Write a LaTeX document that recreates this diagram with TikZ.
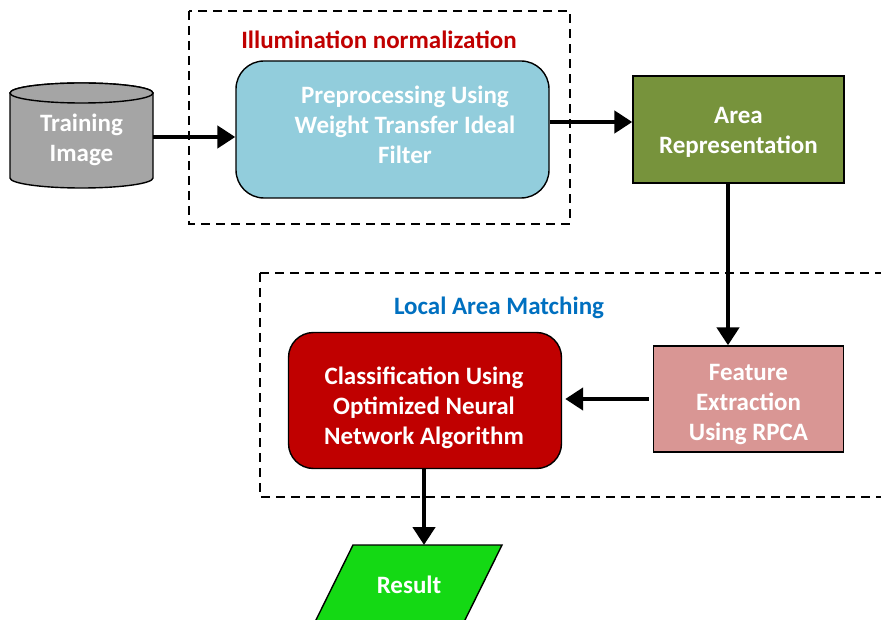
\documentclass[tikz,border=0pt]{standalone}
\usepackage{fontspec}
\setmainfont{Carlito}
\usetikzlibrary{arrows.meta,calc}
\definecolor{cylgray}{HTML}{A5A5A5}
\definecolor{prepblue}{HTML}{92CDDC}
\definecolor{areagreen}{HTML}{77933C}
\definecolor{featpink}{HTML}{D99694}
\definecolor{classred}{HTML}{C00000}
\definecolor{resgreen}{HTML}{14D914}
\definecolor{titlered}{HTML}{C00000}
\definecolor{titleblue}{HTML}{0070C0}
\tikzset{
  txt/.style={font=\fontsize{25}{30}\selectfont\bfseries, text=white, align=center},
  boxline/.style={draw=black, line width=1.4pt, inner sep=0pt},
  arr/.style={line width=4.5pt, -{Triangle[length=18pt,width=22pt]}},
  grp/.style={draw=black, line width=1.5pt, dash pattern=on 9pt off 6pt},
  ttl/.style={font=\fontsize{25}{30}\selectfont\bfseries},
}
\begin{document}
\begin{tikzpicture}[x=1pt,y=-1pt]
\useasboundingbox (0,0) rectangle (881,620);
\fill[white] (0,0) rectangle (881,620);
% groups
\draw[grp] (189,11) rectangle (570,224);
\draw[grp] (260,273) -- (890,273) (260,273) -- (260,497) -- (890,497);
\node[ttl, text=titlered] (t1) at (379,40) {Illumination normalization};
\node[ttl, text=titleblue] (t2) at (499,308) {Local Area Matching};
% cylinder
\draw[boxline, fill=cylgray] (10,93) -- (10,178) arc[start angle=180, end angle=0, x radius=71.5, y radius=10] -- (153,93) arc[start angle=0, end angle=-180, x radius=71.5, y radius=10];
\draw[boxline, fill=cylgray] (81.5,93) ellipse[x radius=71.5, y radius=10];
\node[minimum width=143pt, minimum height=80pt, inner sep=0pt] (train) at (81.5,137) {};
\node[txt] (traintxt) at ([yshift=-3pt]train.center) {Training\\Image};
% preprocessing
\node[boxline, fill=prepblue, rounded corners=28pt, minimum width=313pt, minimum height=137pt] (prep) at (392.5,129.5) {};
\node[txt] (preptxt) at (405,125) {Preprocessing Using\\Weight Transfer Ideal\\Filter};
% area
\node[boxline, fill=areagreen, minimum width=211pt, minimum height=107pt] (area) at (738.5,129.5) {};
\node[txt] (areatxt) at ([yshift=-3pt]area.center) {Area\\Representation};
% feature
\node[boxline, fill=featpink, minimum width=190pt, minimum height=106pt] (feat) at (748.5,399) {};
\node[txt] (feattxt) at ([yshift=-6pt]feat.center) {Feature\\Extraction\\Using RPCA};
% classification
\node[boxline, fill=classred, rounded corners=25pt, minimum width=273pt, minimum height=136pt] (class) at (425,400.5) {};
\node[txt] (classtxt) at ([yshift=-7pt,xshift=-1pt]class.center) {Classification Using\\Optimized Neural\\Network Algorithm};
% result
\draw[boxline, fill=resgreen] (353,545) -- (502,545) -- (463,624) -- (314,624) -- cycle;
\node[txt, inner sep=0pt] (res) at (409,585) {Result};
\coordinate (restop) at (424,545);
% connectors
\draw[arr] (train.east) -- (train.east -| prep.west);
\draw[arr] ([yshift=7.5pt]prep.east) -- ([yshift=7.5pt]prep.east -| area.west);
\draw[arr] ([xshift=-10.5pt]area.south) -- ([xshift=-10.5pt]area.south |- feat.north);
\draw[arr, shorten <=4pt, shorten >=3pt] (feat.west) -- (feat.west -| class.east);
\draw[arr] ([xshift=-1pt]class.south) -- (restop);
\end{tikzpicture}
\end{document}
